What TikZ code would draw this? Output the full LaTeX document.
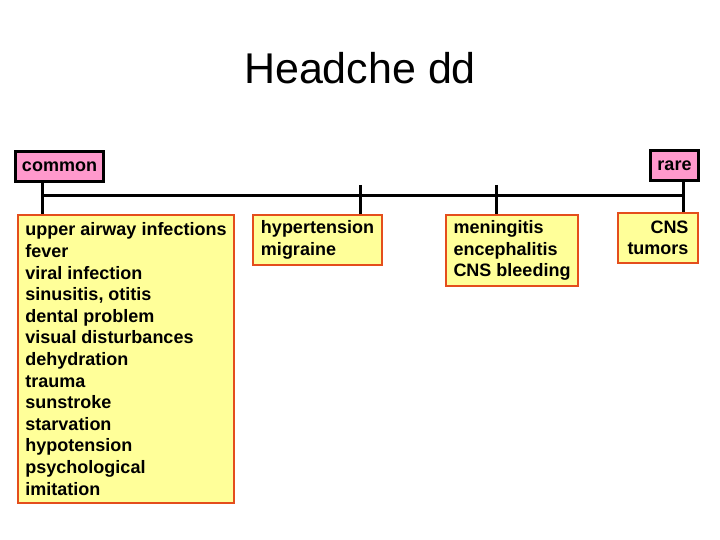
\documentclass[tikz,border=0pt]{standalone}
\usepackage{fontspec}
\setmainfont{Liberation Sans}
\definecolor{pinkbox}{RGB}{255,153,204}
\definecolor{yellowbox}{RGB}{255,255,153}
\definecolor{redline}{RGB}{228,78,28}

\begin{document}
\begin{tikzpicture}[x=1pt,y=-1pt,
  tag/.style={draw=black,line width=3pt,fill=pinkbox,inner sep=0pt,
    font=\bfseries\fontsize{18}{21.6}\selectfont},
  group/.style={draw=redline,line width=2.5pt,fill=yellowbox,inner sep=0pt,
    font=\bfseries\fontsize{18}{21.6}\selectfont},
  bar/.style={line width=3pt}]
\useasboundingbox (0,0) rectangle (720,540);
\node (title) at (360,68) {\fontsize{43}{50}\selectfont Headche dd} ;
\node (common) [tag,minimum width=88pt,minimum height=30pt] at (59.5,166.5) {common} ;
\node (rare) [tag,minimum width=48pt,minimum height=30pt] at (674.5,165.5) {rare} ;
\node (g1) [group,align=left,minimum width=216pt,minimum height=288pt] at (126,359)
  {upper airway infections\\fever\\viral infection\\sinusitis, otitis\\dental problem\\visual disturbances\\dehydration\\trauma\\sunstroke\\starvation\\hypotension\\psychological\\imitation} ;
\node (g2) [group,align=left,minimum width=129pt,minimum height=50pt] at (317.5,240) {hypertension\\migraine} ;
\node (g3) [group,align=left,minimum width=132pt,minimum height=71pt] at (512,250.5) {meningitis\\encephalitis\\CNS bleeding} ;
\node (g4) [group,align=right,minimum width=80pt,minimum height=50pt] at (658,238) {CNS\\tumors} ;
\coordinate (b1) at (42,196) ;
\coordinate (b4) at (683,196) ;
\coordinate (t2) at (360,185) ;
\coordinate (t3) at (496,185) ;
\draw [bar] (b1) to (b4) ;
\draw [bar] (common.south -| b1) to (g1.north -| b1) ;
\draw [bar] (t2) to (g2.north -| t2) ;
\draw [bar] (t3) to (g3.north -| t3) ;
\draw [bar] (rare.south -| b4) to (g4.north -| b4) ;
\end{tikzpicture}
\end{document}
